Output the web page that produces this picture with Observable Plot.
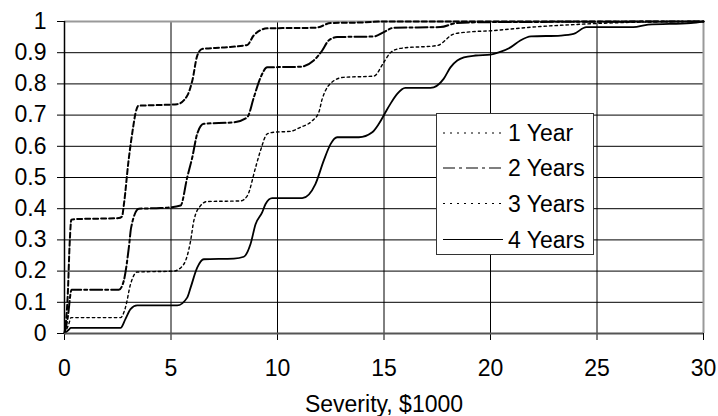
<!DOCTYPE html>
<html><head><meta charset="utf-8">
<script src="https://cdn.jsdelivr.net/npm/d3@7"></script>
<script src="https://cdn.jsdelivr.net/npm/@observablehq/plot@0.6"></script>
<style>
body{margin:0;background:#fff;}
#wrap{position:relative;width:718px;height:416px;font-family:"Liberation Sans",Arial,sans-serif;}
#legend{position:absolute;left:436px;top:113px;width:158px;height:142px;border:1px solid #333;background:#fff;box-sizing:border-box;}
</style>
</head><body>
<div id="wrap"></div>
<script>
const seriesNames = ["1 Year", "2 Years", "3 Years", "4 Years"];
const xTicks = [0, 5, 10, 15, 20, 25, 30];
const yTicks = [0, 0.1, 0.2, 0.3, 0.4, 0.5, 0.6, 0.7, 0.8, 0.9, 1];
const xGrid = [5, 10, 15, 20, 25];
const yGrid = [0.1, 0.2, 0.3, 0.4, 0.5, 0.6, 0.7, 0.8, 0.9];
const xTitle = "Severity, $1000";

const year1 = [[0,0],[0.15,0.12],[0.25,0.3],[0.32,0.365],[0.6,0.367],[1.5,0.368],[2.55,0.37],[2.7,0.375],[2.8,0.42],[3.0,0.55],[3.22,0.66],[3.33,0.705],[3.47,0.73],[4.3,0.732],[5.29,0.735],[5.76,0.762],[6.0,0.81],[6.23,0.89],[6.46,0.912],[7.5,0.917],[8.58,0.925],[8.88,0.955],[9.52,0.978],[10.5,0.979],[11.8,0.98],[12.5,0.995],[14.0,0.997],[15.0,1],[30,1]];
const year2 = [[0,0],[0.15,0.05],[0.33,0.14],[1.5,0.14],[2.55,0.14],[2.78,0.168],[3.02,0.275],[3.13,0.34],[3.49,0.4],[4.5,0.402],[5.45,0.41],[5.76,0.5],[6.0,0.565],[6.23,0.64],[6.54,0.672],[7.95,0.677],[8.58,0.693],[8.89,0.757],[9.2,0.82],[9.52,0.853],[11.08,0.855],[11.7,0.875],[12.1,0.907],[12.4,0.939],[12.8,0.95],[14.52,0.952],[14.99,0.966],[15.46,0.98],[17.65,0.982],[18.4,0.995],[20,0.998],[30,1]];
const year3 = [[0,0],[0.2,0.03],[0.31,0.051],[2.63,0.051],[2.86,0.083],[3.1,0.158],[3.41,0.197],[5.13,0.2],[5.6,0.222],[5.92,0.297],[6.07,0.361],[6.38,0.409],[6.7,0.423],[8.26,0.425],[8.58,0.441],[8.97,0.532],[9.2,0.586],[9.52,0.64],[9.83,0.645],[10.6,0.648],[11.08,0.661],[11.6,0.68],[11.94,0.709],[12.1,0.752],[12.64,0.81],[13.1,0.821],[14.52,0.825],[14.99,0.869],[15.3,0.9],[15.77,0.914],[17.5,0.923],[18.28,0.96],[18.9,0.966],[20.15,0.971],[21.1,0.977],[22.35,0.984],[23.9,0.99],[25.5,0.995],[28,0.999],[30,1]];
const year4 = [[0,0],[0.2,0.012],[0.3,0.018],[2.63,0.018],[2.86,0.046],[3.1,0.078],[3.41,0.09],[5.29,0.09],[5.76,0.115],[5.92,0.147],[6.23,0.211],[6.54,0.238],[7.95,0.24],[8.42,0.246],[8.73,0.286],[8.97,0.35],[9.28,0.388],[9.44,0.415],[9.75,0.434],[11.16,0.434],[11.78,0.479],[12.17,0.554],[12.49,0.607],[12.8,0.629],[13.82,0.629],[14.45,0.645],[14.76,0.672],[15.07,0.709],[15.3,0.736],[15.62,0.768],[16.0,0.787],[17.18,0.787],[17.8,0.816],[18.12,0.853],[18.44,0.875],[18.75,0.885],[19.3,0.891],[20.0,0.894],[20.39,0.901],[20.94,0.917],[21.4,0.939],[21.9,0.952],[23.3,0.955],[23.9,0.96],[24.5,0.982],[26.7,0.982],[27.4,0.99],[29.4,0.995],[30,1]];

const seriesData = [year1, year2, year3, year4];
const styles = [
  {dash: "5,3", width: 2},
  {dash: "12,3,3,3", width: 2},
  {dash: "2.5,3", width: 1.4},
  {dash: null, width: 1.8}
];
const legendDash = ["2,5", "12,4,3,4", "2,5", null];
const FONT = '"Liberation Sans", Arial, sans-serif';

const lineMarks = seriesData.map((d, i) => Plot.line(d, {
  x: p => p[0], y: p => p[1], stroke: "#000",
  strokeWidth: styles[i].width,
  strokeDasharray: styles[i].dash || undefined,
  curve: "monotone-x"
}));

const chart = Plot.plot({
  width: 718, height: 416,
  marginTop: 21, marginBottom: 83, marginLeft: 64, marginRight: 15,
  style: {fontFamily: FONT, fontSize: "23px", background: "#fff", color: "#000"},
  x: {domain: [0, 30], ticks: xTicks, tickFormat: d => String(d), tickSize: 7, tickPadding: 19, label: null},
  y: {domain: [0, 1], ticks: yTicks, tickFormat: d => String(d), tickSize: 7, tickPadding: 11, label: null},
  marks: [
    Plot.ruleY(yGrid, {stroke: "#000", strokeWidth: 1}),
    Plot.ruleX(xGrid, {stroke: "#000", strokeWidth: 1}),
    Plot.ruleY([1], {stroke: "#999", strokeWidth: 2}),
    Plot.ruleX([30], {stroke: "#999", strokeWidth: 2}),
    ...lineMarks,
    Plot.ruleY([0], {stroke: "#555", strokeWidth: 2}),
    Plot.ruleX([0], {stroke: "#000", strokeWidth: 1.5}),
    Plot.text([xTitle], {frameAnchor: "bottom", dy: 71, lineAnchor: "middle", text: d => d, fontSize: 23, fill: "#000"})
  ]
});
const wrap = document.getElementById("wrap");
wrap.appendChild(chart);

// legend
const leg = document.createElement("div");
leg.id = "legend";
wrap.appendChild(leg);
const ls = d3.select(leg).append("svg").attr("width", 156).attr("height", 140).style("display", "block");
const baselines = [27, 62, 97.5, 133.5];
seriesNames.forEach((name, i) => {
  const ly = baselines[i] - 8;
  const ln = ls.append("line").attr("x1", 6).attr("x2", 66).attr("y1", ly).attr("y2", ly)
    .attr("stroke", "#000").attr("stroke-width", 1.2);
  if (legendDash[i]) ln.attr("stroke-dasharray", legendDash[i]);
  ls.append("text").attr("x", 71).attr("y", baselines[i]).text(name)
    .attr("font-size", 23).attr("font-family", FONT).attr("fill", "#000");
});
</script>
</body></html>
